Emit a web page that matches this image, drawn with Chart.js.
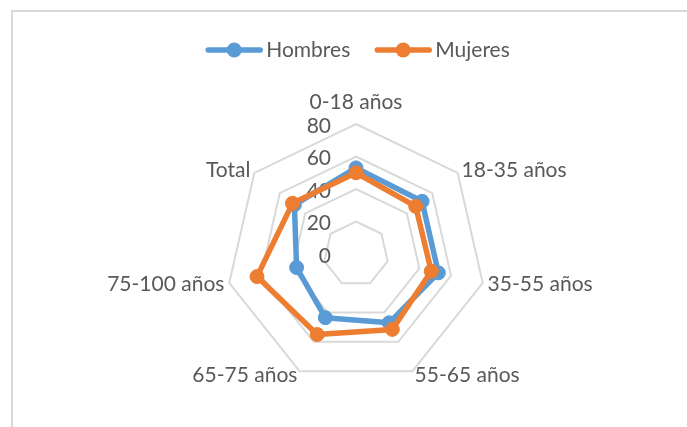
<!DOCTYPE html>
<html><head><meta charset="utf-8">
<script src="https://cdn.jsdelivr.net/npm/chart.js@4.4.1/dist/chart.umd.min.js"></script>
<style>
html,body{margin:0;padding:0;background:#fff;overflow:hidden;width:687px;height:427px;}
#frame{position:absolute;left:11px;top:10px;width:700px;height:440px;border-left:2px solid #d9d9d9;border-top:2px solid #d9d9d9;}
#c{position:absolute;left:0;top:0;}
</style></head><body>
<div id="frame"></div>
<canvas id="c" width="687" height="427"></canvas>
<script>
const categories = ['0-18 años', '18-35 años', '35-55 años', '55-65 años', '65-75 años', '75-100 años', 'Total'];
const hombres = [53, 52, 52, 47, 43.5, 37.5, 48.5];
const mujeres = [50, 47, 47.5, 51.5, 55, 62.5, 50];
const tickValues = [0, 20, 40, 60, 80];
const seriesNames = ['Hombres', 'Mujeres'];
const seriesColors = ['#5B9BD5', '#ED7D31'];

const FONT = '21px Lato';
const TEXT = '#595959';

const decor = {
  id: 'decor',
  beforeDatasetsDraw(chart) {
    const ctx = chart.ctx;
    const s = chart.scales.r;
    ctx.save();
    ctx.font = FONT;
    ctx.fillStyle = TEXT;
    ctx.textAlign = 'right';
    ctx.textBaseline = 'middle';
    tickValues.forEach(v => {
      const d = s.getDistanceFromCenterForValue(v);
      ctx.fillText(String(v), s.xCenter - 25, s.yCenter - d + 2);
    });
    categories.forEach((lab, i) => {
      const p = s.getPointPosition(i, s.drawingArea + 5);
      const dx = p.x - s.xCenter;
      let y = p.y;
      if (Math.abs(dx) < 1) { ctx.textAlign = 'center'; y = s.yCenter - s.drawingArea - 22; }
      else ctx.textAlign = dx > 0 ? 'left' : 'right';
      ctx.fillText(lab, p.x, y);
    });
    const lineW = 56, gap = 4, sep = 25;
    const widths = chart.data.datasets.map(ds => ctx.measureText(ds.label).width);
    let total = 0;
    widths.forEach((w, i) => { total += lineW + gap + w + (i ? sep : 0); });
    let x = 358 - total / 2;
    const ly = 50;
    chart.data.datasets.forEach((ds, i) => {
      ctx.strokeStyle = ds.borderColor;
      ctx.lineWidth = 5.5;
      ctx.lineCap = 'round';
      ctx.beginPath(); ctx.moveTo(x + 2, ly); ctx.lineTo(x + lineW - 2, ly); ctx.stroke();
      ctx.fillStyle = ds.borderColor;
      ctx.beginPath(); ctx.arc(x + lineW / 2, ly, 7.5, 0, Math.PI * 2); ctx.fill();
      ctx.fillStyle = TEXT;
      ctx.textAlign = 'left';
      ctx.fillText(ds.label, x + lineW + gap, ly);
      x += lineW + gap + widths[i] + sep;
    });
    ctx.restore();
  }
};

new Chart(document.getElementById('c'), {
  type: 'radar',
  data: {
    labels: categories,
    datasets: [
      { label: seriesNames[0], data: hombres, borderColor: seriesColors[0], backgroundColor: seriesColors[0],
        pointBackgroundColor: seriesColors[0], pointBorderColor: seriesColors[0], order: 1 },
      { label: seriesNames[1], data: mujeres, borderColor: seriesColors[1], backgroundColor: seriesColors[1],
        pointBackgroundColor: seriesColors[1], pointBorderColor: seriesColors[1], order: 0 }
    ]
  },
  options: {
    responsive: false,
    animation: false,
    devicePixelRatio: 1,
    layout: { padding: { top: 124, bottom: 43, left: 25, right: 0 } },
    elements: {
      line: { borderWidth: 5.5, fill: false, tension: 0, borderJoinStyle: 'round' },
      point: { radius: 7, borderWidth: 1, hoverRadius: 7 }
    },
    plugins: { legend: { display: false }, tooltip: { enabled: false } },
    scales: {
      r: {
        min: 0, max: 80,
        ticks: { stepSize: 20, display: false },
        grid: { color: '#d9d9d9', lineWidth: 2 },
        angleLines: { display: false },
        pointLabels: { display: false }
      }
    }
  },
  plugins: [decor]
});
</script>
</body></html>
